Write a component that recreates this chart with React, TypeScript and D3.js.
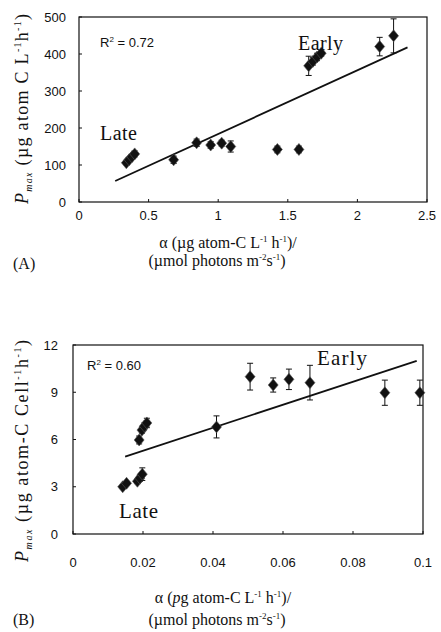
import React from "react";
import * as d3 from "d3";

// ---------- Panel A data ----------
const alphaA = [0.34, 0.36, 0.38, 0.40, 0.68, 0.845, 0.946, 1.025, 1.09, 1.425, 1.58, 1.65, 1.68, 1.71, 1.74, 2.16, 2.26];
const pmaxA = [106, 114, 122, 130, 114, 160, 154, 159, 150, 142, 142, 368, 380, 392, 402, 420, 449];
const errA = [5, 5, 6, 8, 10, 10, 9, 8, 15, 9, 9, 26, 10, 10, 8, 25, 46];
const xTicksA = [0, 0.5, 1, 1.5, 2, 2.5];
const xTickLabelsA = ["0", "0.5", "1", "1.5", "2", "2.5"];
const yTicksA = [0, 100, 200, 300, 400, 500];
const fitSlopeA = 172;
const fitInterceptA = 12;
const fitRangeA = [0.26, 2.36];
const r2A = "0.72";

// ---------- Panel B data ----------
const alphaB = [0.0142, 0.0153, 0.0184, 0.0191, 0.0198, 0.0189, 0.0197, 0.0204, 0.0211, 0.041, 0.0506, 0.0572, 0.0617, 0.0677, 0.0891, 0.0991];
const pmaxB = [3.0, 3.22, 3.35, 3.55, 3.8, 5.97, 6.6, 6.85, 7.05, 6.8, 9.99, 9.46, 9.82, 9.61, 8.97, 8.97];
const errB = [0.1, 0.1, 0.15, 0.2, 0.4, 0.25, 0.2, 0.2, 0.3, 0.7, 0.85, 0.45, 0.65, 1.1, 0.8, 0.8];
const xTicksB = [0, 0.02, 0.04, 0.06, 0.08, 0.1];
const xTickLabelsB = ["0", "0.02", "0.04", "0.06", "0.08", "0.1"];
const yTicksB = [0, 3, 6, 9, 12];
const fitSlopeB = 73.1;
const fitInterceptB = 3.82;
const fitRangeB = [0.0149, 0.0982];
const r2B = "0.60";

const SERIF = "'Liberation Serif', 'DejaVu Serif', serif";
const SANS = "'Liberation Sans', Arial, sans-serif";
const INK = "#111";

type PanelProps = {
  alpha: number[];
  pmax: number[];
  err: number[];
  xDomain: [number, number];
  yDomain: [number, number];
  xRange: [number, number];
  yRange: [number, number];
  xTicks: number[];
  xTickLabels: string[];
  yTicks: number[];
  yLabelX: number;
  xLabelY: number;
  slope: number;
  intercept: number;
  fitRange: number[];
};

function Panel(p: PanelProps) {
  const x = d3.scaleLinear().domain(p.xDomain).range(p.xRange);
  const y = d3.scaleLinear().domain(p.yDomain).range(p.yRange);
  const fitPts: [number, number][] = p.fitRange.map((a) => [a, p.intercept + p.slope * a]);
  const line = d3
    .line<[number, number]>()
    .x((d) => x(d[0]))
    .y((d) => y(d[1]));
  const diamond = "M0,-6L5,0L0,6L-5,0Z";
  const [x0, x1] = p.xRange;
  const [yb, yt] = p.yRange;
  return (
    <g>
      <rect x={x0} y={yt} width={x1 - x0} height={yb - yt} fill="none" stroke={INK} strokeWidth={1.2} />
      {p.yTicks.map((t) => (
        <g key={"yt" + t}>
          <line x1={x0} x2={x0 + 3} y1={y(t)} y2={y(t)} stroke={INK} strokeWidth={1} />
          <text x={p.yLabelX} y={y(t)} dy="0.35em" textAnchor="end" fontFamily={SANS} fontSize={13} fill={INK}>
            {String(t)}
          </text>
        </g>
      ))}
      {p.xTicks.map((t, i) => (
        <g key={"xt" + t}>
          <line x1={x(t)} x2={x(t)} y1={yb} y2={yb - 3} stroke={INK} strokeWidth={1} />
          <text x={x(t)} y={p.xLabelY} dy="0.35em" textAnchor="middle" fontFamily={SANS} fontSize={13} fill={INK}>
            {p.xTickLabels[i]}
          </text>
        </g>
      ))}
      <path d={line(fitPts) || ""} fill="none" stroke={INK} strokeWidth={1.8} />
      {p.alpha.map((a, i) => {
        const cx = x(a);
        const top = y(p.pmax[i] + p.err[i]);
        const bot = y(p.pmax[i] - p.err[i]);
        return (
          <g key={"pt" + i}>
            <line x1={cx} x2={cx} y1={top} y2={bot} stroke={INK} strokeWidth={1} />
            <line x1={cx - 3} x2={cx + 3} y1={top} y2={top} stroke={INK} strokeWidth={1} />
            <line x1={cx - 3} x2={cx + 3} y1={bot} y2={bot} stroke={INK} strokeWidth={1} />
            <path d={diamond} transform={`translate(${cx},${y(p.pmax[i])})`} fill={INK} stroke="#555" strokeWidth={0.6} />
          </g>
        );
      })}
    </g>
  );
}

export default function App() {
  return (
    <svg
      width={441}
      height={632}
      style={{ position: "absolute", left: 0, top: 0, background: "#fff" }}
      xmlns="http://www.w3.org/2000/svg"
    >
      <rect x={0} y={0} width={441} height={632} fill="#fff" />
      {/* Panel A */}
      <Panel
        alpha={alphaA}
        pmax={pmaxA}
        err={errA}
        xDomain={[0, 2.5]}
        yDomain={[0, 500]}
        xRange={[79, 427]}
        yRange={[202, 17]}
        xTicks={xTicksA}
        xTickLabels={xTickLabelsA}
        yTicks={yTicksA}
        yLabelX={66}
        xLabelY={215}
        slope={fitSlopeA}
        intercept={fitInterceptA}
        fitRange={fitRangeA}
      />
      <text x={100} y={47} fontFamily={SANS} fontSize={13} fill={INK}>
        R<tspan fontSize={8} dy={-5}>2</tspan>
        <tspan dy={5}> = {r2A}</tspan>
      </text>
      <text x={298} y={50} fontFamily={SERIF} fontSize={20} fill={INK} textLength={45} lengthAdjust="spacing">
        Early
      </text>
      <text x={100} y={140} fontFamily={SERIF} fontSize={20} fill={INK} textLength={37} lengthAdjust="spacing">
        Late
      </text>
      <text
        transform="translate(28,109) rotate(-90)"
        textAnchor="middle"
        fontFamily={SERIF}
        fontSize={18}
        fill={INK}
        textLength={190}
        lengthAdjust="spacing"
      >
        <tspan fontStyle="italic">P</tspan>
        <tspan fontStyle="italic" fontSize={10} dy={4}>max</tspan>
        <tspan dy={-4}> (µg atom C L</tspan>
        <tspan fontSize={10} dy={-7}>-1</tspan>
        <tspan dy={7}>h</tspan>
        <tspan fontSize={10} dy={-7}>-1</tspan>
        <tspan dy={7}>)</tspan>
      </text>
      <text x={228} y={248} textAnchor="middle" fontFamily={SERIF} fontSize={16} fill={INK}>
        α (µg atom-C L<tspan fontSize={9} dy={-6}>-1</tspan>
        <tspan dy={6}> h</tspan>
        <tspan fontSize={9} dy={-6}>-1</tspan>
        <tspan dy={6}>)/</tspan>
      </text>
      <text x={217} y={266} textAnchor="middle" fontFamily={SERIF} fontSize={16} fill={INK}>
        (µmol photons m<tspan fontSize={9} dy={-6}>-2</tspan>
        <tspan dy={6}>s</tspan>
        <tspan fontSize={9} dy={-6}>-1</tspan>
        <tspan dy={6}>)</tspan>
      </text>
      <text x={13} y={269} fontFamily={SERIF} fontSize={16} fill={INK}>
        (A)
      </text>

      {/* Panel B */}
      <Panel
        alpha={alphaB}
        pmax={pmaxB}
        err={errB}
        xDomain={[0, 0.1]}
        yDomain={[0, 12]}
        xRange={[73, 423]}
        yRange={[534, 345]}
        xTicks={xTicksB}
        xTickLabels={xTickLabelsB}
        yTicks={yTicksB}
        yLabelX={58}
        xLabelY={562}
        slope={fitSlopeB}
        intercept={fitInterceptB}
        fitRange={fitRangeB}
      />
      <text x={87} y={370} fontFamily={SANS} fontSize={13} fill={INK}>
        R<tspan fontSize={8} dy={-5}>2</tspan>
        <tspan dy={5}> = {r2B}</tspan>
      </text>
      <text x={317} y={365} fontFamily={SERIF} fontSize={21} fill={INK} textLength={50} lengthAdjust="spacing">
        Early
      </text>
      <text x={119} y={518} fontFamily={SERIF} fontSize={21} fill={INK} textLength={39} lengthAdjust="spacing">
        Late
      </text>
      <text
        transform="translate(28,451) rotate(-90)"
        textAnchor="middle"
        fontFamily={SERIF}
        fontSize={18}
        fill={INK}
        textLength={222}
        lengthAdjust="spacing"
      >
        <tspan fontStyle="italic">P</tspan>
        <tspan fontStyle="italic" fontSize={10} dy={4}>max</tspan>
        <tspan dy={-4}> (µg atom-C Cell</tspan>
        <tspan fontSize={10} dy={-7}>-1</tspan>
        <tspan dy={7}>h</tspan>
        <tspan fontSize={10} dy={-7}>-1</tspan>
        <tspan dy={7}>)</tspan>
      </text>
      <text x={223} y={603} textAnchor="middle" fontFamily={SERIF} fontSize={16} fill={INK}>
        α (<tspan fontStyle="italic">p</tspan>g atom-C L<tspan fontSize={9} dy={-6}>-1</tspan>
        <tspan dy={6}> h</tspan>
        <tspan fontSize={9} dy={-6}>-1</tspan>
        <tspan dy={6}>)/</tspan>
      </text>
      <text x={217} y={625} textAnchor="middle" fontFamily={SERIF} fontSize={16} fill={INK}>
        (µmol photons m<tspan fontSize={9} dy={-6}>-2</tspan>
        <tspan dy={6}>s</tspan>
        <tspan fontSize={9} dy={-6}>-1</tspan>
        <tspan dy={6}>)</tspan>
      </text>
      <text x={13} y={625} fontFamily={SERIF} fontSize={16} fill={INK}>
        (B)
      </text>
    </svg>
  );
}
